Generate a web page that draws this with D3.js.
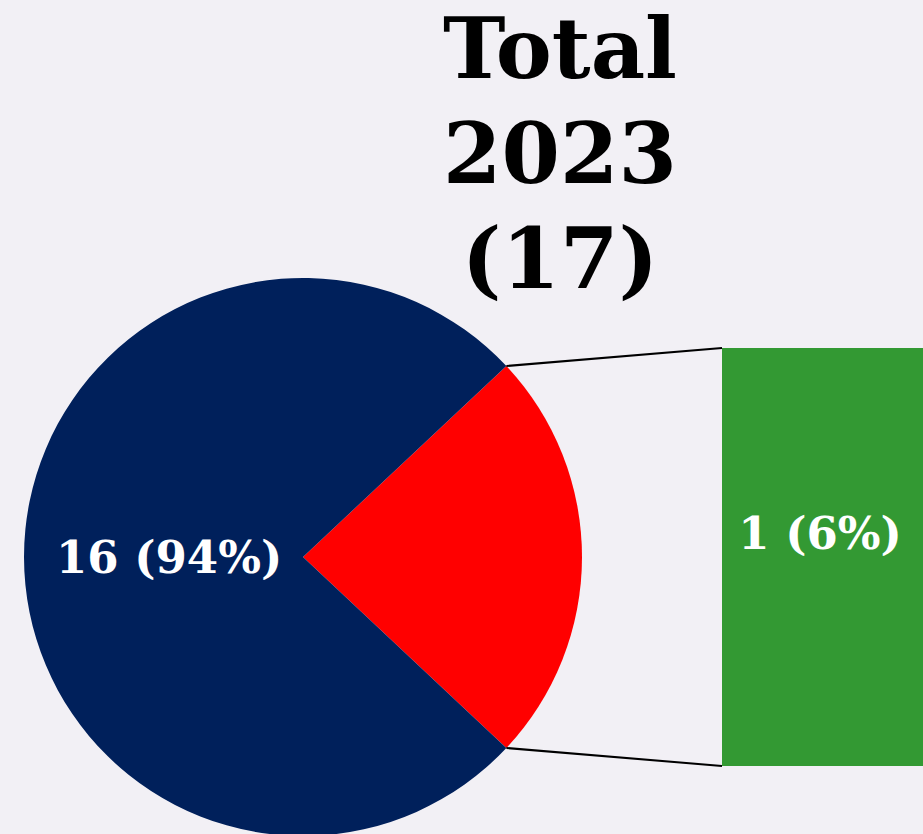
<!DOCTYPE html>
<meta charset="utf-8">
<style>
body { margin: 0; background: #f2f0f5; overflow: hidden; }
svg { display: block; }
text { font-family: "DejaVu Serif", Georgia, serif; font-weight: bold; }
</style>
<body>
<script src="https://d3js.org/d3.v7.min.js"></script>
<script>

// data
var titleLines = ["Total", "2023", "(17)"];
var pieLabels = ["1 (6%)", "16 (94%)"];
var pieCounts = [1, 16];
var pieShares = [0.24, 0.76];   // wedge sizes as drawn
var pieColors = ["#ff0000", "#00205b"];
var barValue = [1];
var barColor = "#339933";

var width = 923, height = 834;
var cx = 303, cy = 557, r = 279;

var svg = d3.select("body")
  .append("svg")
    .attr("width", width)
    .attr("height", height);

// pie, small slice centred on the right side
var startA = Math.PI / 2 - pieShares[0] * Math.PI;
var pie = d3.pie()
    .sort(null)
    .startAngle(startA)
    .endAngle(startA + 2 * Math.PI)
    .value(function(d, i) { return pieShares[i]; });

var arcs = pie(pieCounts);

var arc = d3.arc().innerRadius(0).outerRadius(r);
var labelArc = d3.arc().innerRadius(r * 0.48).outerRadius(r * 0.48);

var g = svg.append("g")
    .attr("transform", `translate(${cx}, ${cy})`);

g.selectAll("path")
    .data(arcs)
  .enter()
  .append("path")
    .attr("d", arc)
    .attr("fill", function(d, i) { return pieColors[i]; });

// label for the big slice
g.append("text")
    .attr("transform", "translate(" + labelArc.centroid(arcs[1]) + ")")
    .attr("dy", "0.36em")
    .attr("text-anchor", "middle")
    .attr("fill", "white")
    .style("font-size", "45px")
    .text(pieLabels[1]);

// bar for the split-out slice
var barX = 722, barW = 220;
var y = d3.scaleLinear()
    .domain([0, d3.sum(barValue)])
    .range([766, 348]);

svg.append("rect")
    .attr("x", barX)
    .attr("y", y(barValue[0]))
    .attr("width", barW)
    .attr("height", y(0) - y(barValue[0]))
    .attr("fill", barColor);

svg.append("text")
    .attr("x", 820)
    .attr("y", (y(0) + y(barValue[0])) / 2 - 24)
    .attr("dy", "0.36em")
    .attr("text-anchor", "middle")
    .attr("fill", "white")
    .style("font-size", "45px")
    .text(pieLabels[0]);

// connector lines from the small wedge edges to the bar
var a0 = arcs[0].startAngle, a1 = arcs[0].endAngle;
var pts = [
  [cx + r * Math.sin(a0), cy - r * Math.cos(a0), barX, y(barValue[0])],
  [cx + r * Math.sin(a1), cy - r * Math.cos(a1), barX, y(0)]
];
svg.selectAll("line.conn")
    .data(pts)
  .enter()
  .append("line")
    .attr("class", "conn")
    .attr("x1", d => d[0]).attr("y1", d => d[1])
    .attr("x2", d => d[2]).attr("y2", d => d[3])
    .attr("stroke", "black")
    .attr("stroke-width", 2);

// title
svg.append("text")
    .attr("text-anchor", "middle")
    .style("font-size", "84px")
  .selectAll("tspan")
    .data(titleLines)
  .enter()
  .append("tspan")
    .attr("x", 560)
    .attr("y", (d, i) => 78 + i * 105)
    .text(d => d);

</script>
</body>
</html>
